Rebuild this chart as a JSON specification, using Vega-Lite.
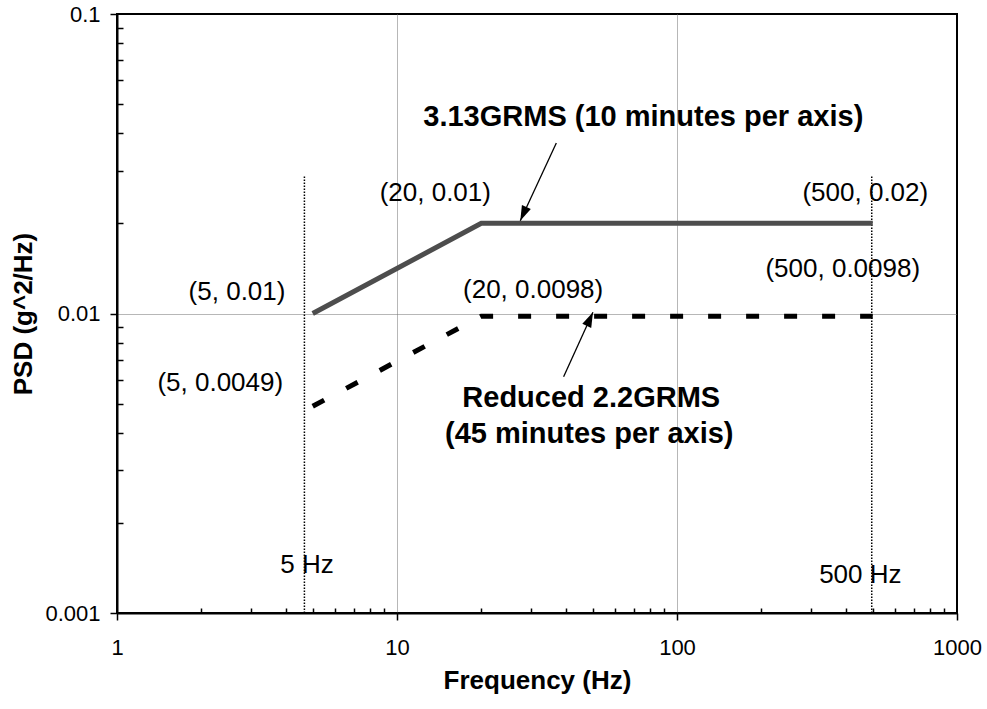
{
  "$schema": "https://vega.github.io/schema/vega-lite/v6.json",
  "width": 840,
  "height": 599,
  "autosize": {"type": "none"},
  "padding": {"left": 117, "top": 14, "right": 30, "bottom": 96},
  "background": "white",
  "config": {
    "view": {"stroke": "black", "strokeWidth": 2},
    "font": "Liberation Sans"
  },
  "datasets": {
    "solid": [{"f": 5, "psd": 0.01}, {"f": 20, "psd": 0.02}, {"f": 500, "psd": 0.02}],
    "dashed": [{"f": 5, "psd": 0.0049}, {"f": 20, "psd": 0.0098}, {"f": 500, "psd": 0.0098}],
    "markers": [{"f": 4.67, "psd": 0.001, "psd2": 0.029}, {"f": 496, "psd": 0.001, "psd2": 0.029}],
    "arrows": [
      {"id": "a", "f": 37.07, "psd": 0.0371, "f2": 27.56, "psd2": 0.0204},
      {"id": "b", "f": 39.36, "psd": 0.00615, "f2": 50.1, "psd2": 0.0101}
    ],
    "labels": [
      {"label": "(5, 0.01)", "f": 2.683, "psd": 0.01109},
      {"label": "(20, 0.01)", "f": 13.7, "psd": 0.02374},
      {"label": "(500, 0.02)", "f": 470.5, "psd": 0.02374},
      {"label": "(500, 0.0098)", "f": 390.9, "psd": 0.01324},
      {"label": "(20, 0.0098)", "f": 30.63, "psd": 0.01126},
      {"label": "(5, 0.0049)", "f": 2.338, "psd": 0.005511},
      {"label": "5 Hz", "f": 4.771, "psd": 0.00136},
      {"label": "500 Hz", "f": 451.6, "psd": 0.00126}
    ],
    "bold": [
      {"label": "3.13GRMS (10 minutes per axis)", "f": 75.8, "psd": 0.04227},
      {"label": "Reduced 2.2GRMS", "f": 49.4, "psd": 0.004884},
      {"label": "(45 minutes per axis)", "f": 48.6, "psd": 0.003695}
    ]
  },
  "encoding": {
    "x": {
      "field": "f",
      "type": "quantitative",
      "scale": {"type": "log", "domain": [1, 1000], "nice": false},
      "axis": {
        "title": "Frequency (Hz)",
        "values": [1, 2, 3, 4, 5, 6, 7, 8, 9, 10, 20, 30, 40, 50, 60, 70, 80, 90, 100, 200, 300, 400, 500, 600, 700, 800, 900, 1000],
        "labelExpr": "datum.value==1?'1':datum.value==10?'10':datum.value==100?'100':datum.value==1000?'1000':''",
        "labelFont": "Liberation Sans",
        "labelFontSize": 22,
        "labelColor": "black",
        "labelPadding": 17,
        "labelOverlap": false,
        "labelFlush": false,
        "labelBound": false,
        "tickColor": "black",
        "tickWidth": 1.5,
        "tickSize": {"condition": {"test": "datum.value==1||datum.value==10||datum.value==100||datum.value==1000", "value": 7}, "value": -5},
        "domainColor": "black",
        "domainWidth": 2,
        "grid": true,
        "gridColor": "#6e6e6e",
        "gridDash": [1, 1],
        "gridWidth": 1,
        "gridOpacity": {"condition": {"test": "datum.value==10||datum.value==100", "value": 1}, "value": 0},
        "titleFont": "Liberation Sans",
        "titleFontSize": 26,
        "titleFontWeight": "bold",
        "titleColor": "black",
        "titlePadding": 9
      }
    },
    "y": {
      "field": "psd",
      "type": "quantitative",
      "scale": {"type": "log", "domain": [0.001, 0.1], "nice": false},
      "axis": {
        "title": "PSD (g^2/Hz)",
        "values": [0.001, 0.002, 0.003, 0.004, 0.005, 0.006, 0.007, 0.008, 0.009, 0.01, 0.02, 0.03, 0.04, 0.05, 0.06, 0.07, 0.08, 0.09, 0.1],
        "labelExpr": "datum.value==0.1?'0.1':datum.value==0.01?'0.01':datum.value==0.001?'0.001':''",
        "labelFont": "Liberation Sans",
        "labelFontSize": 22,
        "labelColor": "black",
        "labelPadding": 10,
        "labelOverlap": false,
        "labelFlush": false,
        "labelBound": false,
        "tickColor": "black",
        "tickWidth": 1.5,
        "tickSize": {"condition": {"test": "datum.value==0.1||datum.value==0.01||datum.value==0.001", "value": 7}, "value": -6},
        "domainColor": "black",
        "domainWidth": 2,
        "grid": true,
        "gridColor": "#6e6e6e",
        "gridDash": [1, 1],
        "gridWidth": 1,
        "gridOpacity": {"condition": {"test": "datum.value==0.01", "value": 1}, "value": 0},
        "titleFont": "Liberation Sans",
        "titleFontSize": 26,
        "titleFontWeight": "bold",
        "titleColor": "black",
        "titlePadding": 8
      }
    }
  },
  "layer": [
    {
      "data": {"name": "markers"},
      "mark": {"type": "rule", "color": "black", "strokeWidth": 1.5, "strokeDash": [1.5, 1.5]},
      "encoding": {"y2": {"field": "psd2"}}
    },
    {
      "data": {"name": "solid"},
      "mark": {"type": "line", "color": "#4d4d4d", "strokeWidth": 5, "strokeCap": "butt"},
      "encoding": {}
    },
    {
      "data": {"name": "dashed"},
      "mark": {"type": "line", "color": "black", "strokeWidth": 5, "strokeDash": [13, 25], "strokeCap": "butt"},
      "encoding": {}
    },
    {
      "data": {"name": "arrows"},
      "mark": {"type": "rule", "color": "black", "strokeWidth": 1.3},
      "encoding": {"x2": {"field": "f2"}, "y2": {"field": "psd2"}}
    },
    {
      "data": {"name": "arrows"},
      "transform": [{"filter": "datum.id=='a'"}],
      "mark": {"type": "point", "shape": "M0,0 L-0.65,2 L0.65,2 Z", "filled": true, "color": "black", "opacity": 1, "size": 225, "angle": 204},
      "encoding": {"x": {"field": "f2", "type": "quantitative"}, "y": {"field": "psd2", "type": "quantitative"}}
    },
    {
      "data": {"name": "arrows"},
      "transform": [{"filter": "datum.id=='b'"}],
      "mark": {"type": "point", "shape": "M0,0 L-0.65,2 L0.65,2 Z", "filled": true, "color": "black", "opacity": 1, "size": 225, "angle": 24.3},
      "encoding": {"x": {"field": "f2", "type": "quantitative"}, "y": {"field": "psd2", "type": "quantitative"}}
    },
    {
      "data": {"name": "labels"},
      "mark": {"type": "text", "font": "Liberation Sans", "fontSize": 26, "color": "black", "align": "center", "baseline": "alphabetic"},
      "encoding": {"text": {"field": "label"}}
    },
    {
      "data": {"name": "bold"},
      "mark": {"type": "text", "font": "Liberation Sans", "fontSize": 29, "fontWeight": "bold", "color": "black", "align": "center", "baseline": "alphabetic"},
      "encoding": {"text": {"field": "label"}}
    }
  ]
}
